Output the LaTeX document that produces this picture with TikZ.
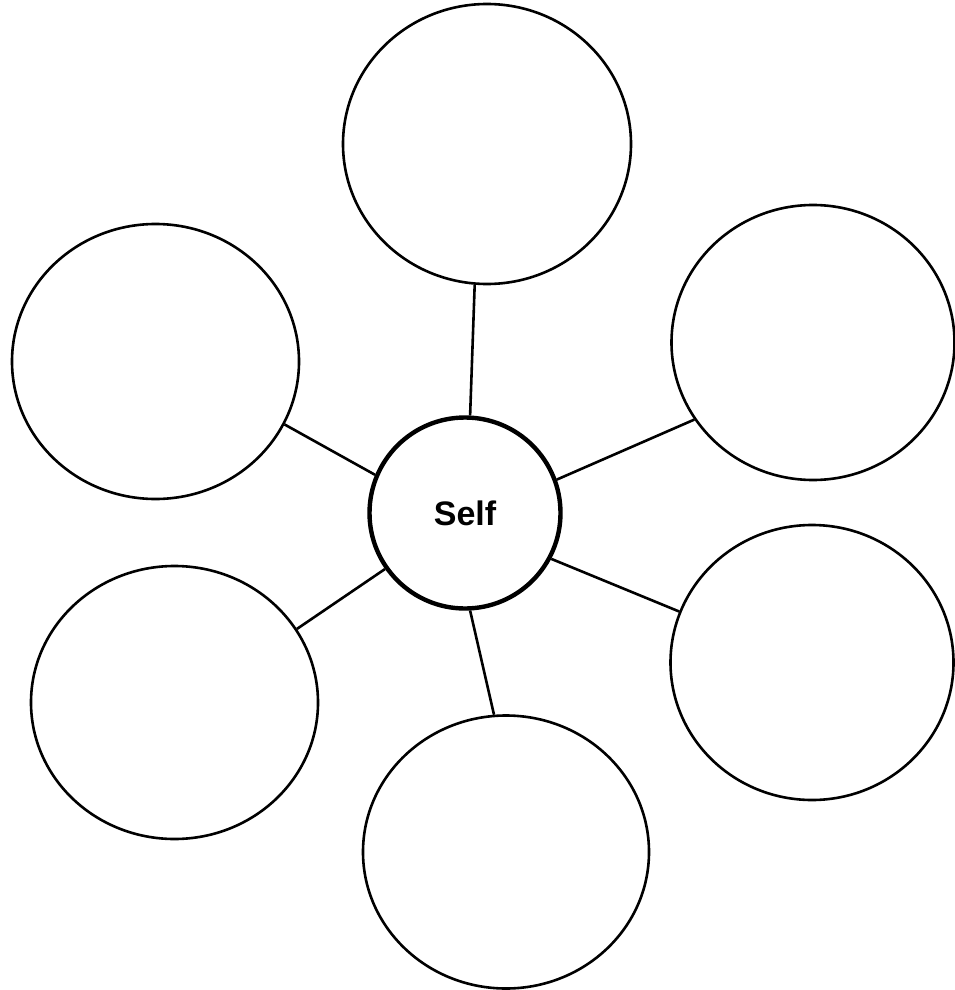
\documentclass[tikz,border=0pt]{standalone}
\usepackage{fontspec}
\setmainfont{Liberation Sans}
\usetikzlibrary{shapes.geometric}
\begin{document}
\begin{tikzpicture}[x=1pt,y=-1pt,
  outer/.style={draw, ellipse, line width=2.6pt, inner sep=0pt},
  selfnode/.style={draw, circle, line width=4.4pt, inner sep=0pt, minimum size=191pt, font=\fontsize{34}{40}\selectfont\bfseries},
  link/.style={line width=2.6pt}]
\useasboundingbox (0,0) rectangle (955,990);
\node[selfnode] (self) at (465,513) {Self};
\node[outer, minimum width=288pt, minimum height=280pt] (top) at (487,144) {};
\node[outer, minimum width=287pt, minimum height=275pt] (ul) at (155.5,361.5) {};
\node[outer, minimum width=283pt, minimum height=275pt] (ur) at (813,342.5) {};
\node[outer, minimum width=287pt, minimum height=273pt] (ll) at (174.5,702.5) {};
\node[outer, minimum width=283pt, minimum height=275pt] (lr) at (812,662.5) {};
\node[outer, minimum width=286pt, minimum height=273pt] (bot) at (506,852) {};
\draw[link] (self.87.6) -- (top.265);
\draw[link] (self.157.6) -- (ul.-26);
\draw[link] (self.20.8) -- (ur.213);
\draw[link] (self.215.7) -- (ll.31);
\draw[link] (self.332) -- (lr.159);
\draw[link] (self.273) -- (bot.95.5);
\end{tikzpicture}
\end{document}
